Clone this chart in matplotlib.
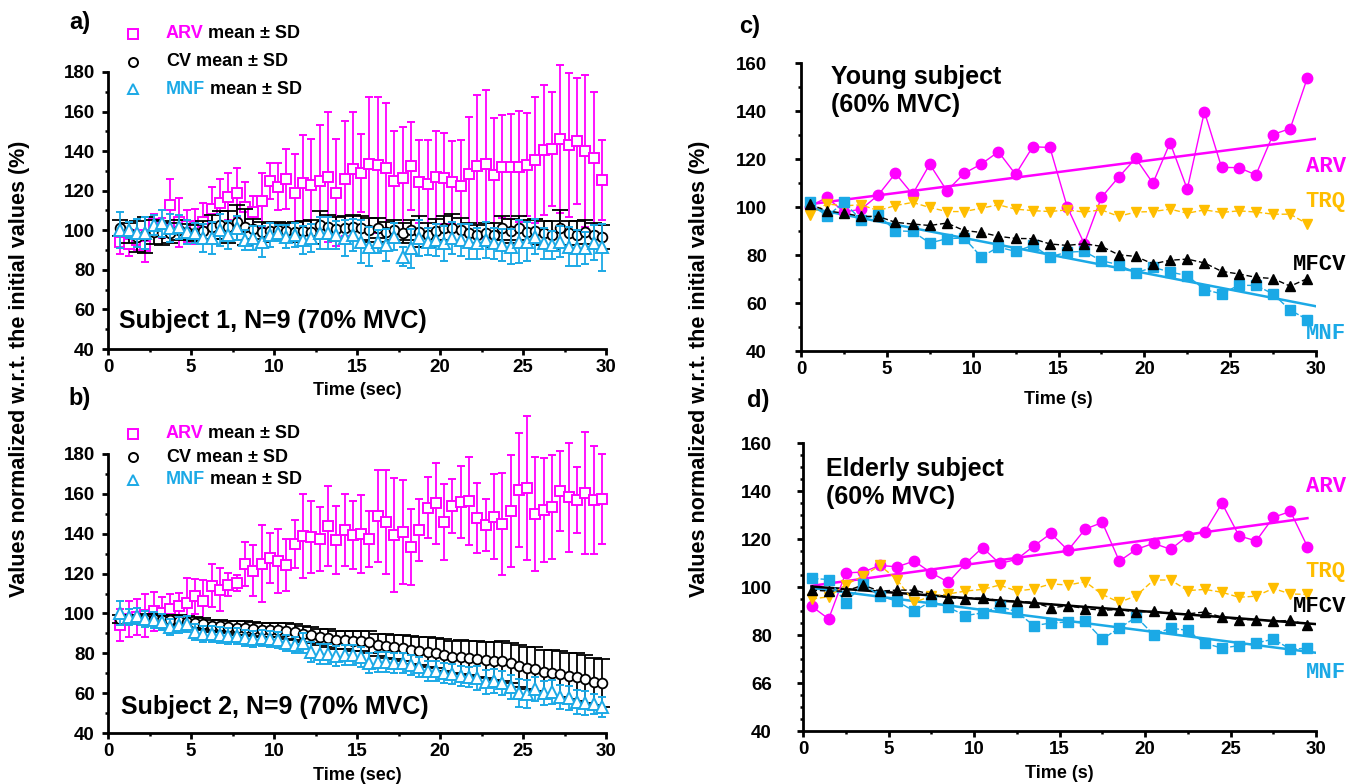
"""
"  plot.py
"  Fatigue plots: normalized ARV / CV / MNF (mean +- SD) for two subjects (a, b)
"  and single-subject ARV / TRQ / MFCV / MNF trends for a young and an elderly subject (c, d)
"""

import matplotlib
matplotlib.use('Agg')
import matplotlib.pyplot as plt
from matplotlib.lines import Line2D
from matplotlib.ticker import MultipleLocator
import numpy as np

plt.rcParams['font.family'] = ['Liberation Sans', 'DejaVu Sans']
plt.rcParams['font.weight'] = 'bold'

MAG = '#FF00FF'
CYA = '#1BA9E6'
ORA = '#FFBE00'
BLK = '#000000'

# ---------------- data, panels a and b (0.5 s epochs) ----------------
t_ab = np.arange(0.75, 30.0, 0.5)

arv_a = [94, 93, 95, 92, 103, 101, 113, 104, 102, 102, 104, 111, 114, 117, 119, 112, 109, 115, 125, 122,
         126, 119, 124, 123, 125, 127, 119, 126, 131, 129, 133.5, 133, 131.5, 125, 126.3, 132.5, 124.6, 123.4,
         126.8, 126.3, 124.3, 122.4, 128.5, 132.5, 133.5, 128, 132.2, 132.2, 132.2, 133.2, 135.5, 140.6,
         141.1, 146, 143.1, 145.1, 140.1, 136.7, 125.4]
arv_a_sd = [6, 6, 5, 8, 5, 5, 13, 12.5, 8, 9, 10, 11, 12, 12, 12.5, 12.6, 8.5, 14, 9, 12, 15, 19.6, 24, 23,
            28, 33, 27, 29, 29, 19.7, 34, 34.5, 33, 25, 26, 22, 21, 22, 23.6, 23, 21, 23, 28.6, 36, 37.4, 29,
            26, 26.6, 28, 26, 32, 32.7, 28.6, 37.5, 36.6, 31.7, 38.4, 33.3, 20.2]
cv_a = [101, 98.5, 96.8, 97.6, 99.3, 98.8, 98.5, 100.2, 99.3, 98.5, 99.8, 101.8, 102.7, 101.8, 104, 101.8,
        100.5, 99.3, 99.8, 100.2, 99.8, 99.3, 99.8, 99.3, 102.7, 101.8, 100.5, 101, 101.8,
        101, 100.2, 101, 99.3, 100.2, 98.5, 100.2, 99.3, 97.6, 99.8, 101, 101, 100.2, 98.5, 97.6, 98.8,
        97.6, 101, 99.8, 101, 99.3, 99.8, 98.5, 97.6, 101, 98.5, 97.6, 99.3, 97.6, 96.5]
cv_a_sd = [4, 5, 8, 9, 6, 6, 5, 5, 4, 4, 5, 6, 7, 8, 9, 9, 5, 5, 4, 4, 4, 5, 5, 6, 7, 6, 6, 6, 6,
           6, 6, 5, 5, 5, 5, 5, 8, 6, 6, 6, 7, 6, 5, 5, 5, 6, 6, 6, 6, 6, 6, 6, 7, 9, 6, 7, 6, 6, 6]
mnf_a = [100.2, 100.2, 98.5, 98.5, 102.7, 103.5, 101, 101.8, 99.3, 98.5, 96, 96, 100.2, 97.6, 101, 95.1, 96,
         94.3, 97.6, 98.5, 96.8, 97.6, 95.1, 96, 98.5, 98.5, 97.6, 96, 97.6,
         94.3, 91.8, 94.3, 92.6, 96.8, 86.7, 90.9, 96, 94.3, 95.1, 93.4, 96, 95.1, 94.3, 93.4, 95.1, 93.4,
         92.6, 91.8, 94.3, 94.3, 96.8, 93.4, 92.6, 94.3, 91.8, 90.9, 90.9, 93.8, 91.4]
mnf_a_sd = [9, 4, 7, 8, 5, 7, 7, 6, 6, 5, 7, 8, 8, 7, 6, 5, 6, 8, 6, 4, 6, 6, 7, 7, 8, 8, 7, 9, 8,
            11, 10, 6, 8, 7, 5, 10, 9, 7, 8, 9, 8, 8, 9, 8, 9, 8, 8, 9, 11, 10, 9, 8, 7, 8, 10, 9, 8, 9, 12]

arv_b = [94, 97, 98, 99, 101, 100, 102, 103.5, 105, 108.5, 106, 114, 112, 114.5, 115.5, 125, 121.5, 125,
         128, 126.5, 124.5, 135, 139, 138.5, 137.5, 144, 137, 142, 139.5,
         139.9, 137.2, 148.9, 145.9, 139.4, 140.9, 133.5, 141.9, 153.1, 155.3, 145.7, 153.9, 155.9, 156.4,
         147.9, 144.2, 148.6, 144.9, 151.4, 161.9, 162.9, 149.9, 151.9, 153.3, 161.4, 158.3, 156.9, 160.4,
         156.9, 157.3]
arv_b_sd = [8, 9, 9, 11, 10, 8, 8, 7, 13, 9, 11, 11, 11, 6, 4, 11, 13, 19.5, 12.5, 16, 13, 12, 21, 18, 16,
            20, 17, 18, 17,
            19.5, 14, 23, 26, 28.7, 26, 19, 15.5, 15.3, 20.3, 19, 13.4, 18, 22.3, 17.4, 13, 21.5, 25.5, 28,
            28.5, 36, 28.5, 26, 26, 20, 27.4, 16.5, 30.7, 27, 22.6]
cv_b = [97.4, 97.1, 97.4, 97.4, 97.1, 96.6, 96.6, 96.3, 95.8, 95.3, 94.6, 93.9, 93.6, 93.2, 92.9, 92.6, 92.2,
        91.9, 91.9, 91.6, 91.1, 90.6, 89.9, 89.1, 88.2, 87.9, 86.9, 86.5, 86.2,
        86, 85.5, 84.2, 83.7, 83.3, 82.5, 81.7, 81.2, 80.8, 80, 79.2, 78.3, 78, 77.5, 77, 76.6, 76.3, 76.3,
        75.3, 73.6, 72.5, 72, 70.8, 70.3, 69.6, 68.6, 68, 67, 65.8, 65]
cv_b_sd = [2, 2, 2, 2.5, 2.5, 2.5, 2.5, 3, 3, 3, 3, 3, 3, 3, 3.5, 3.5, 3.5, 3.5, 3.5, 3.5, 4, 4, 4, 4, 4,
           4.5, 4.5, 4.5, 5, 5, 5.5, 5.5, 6, 6, 6.5, 7, 7, 7.5, 7.5, 8, 8, 8.5, 8.5, 9, 9, 9.5, 10, 10,
           10.5, 10.5, 11, 11, 11.5, 11.5, 11.5, 12, 12, 12, 12]
mnf_b = [100.4, 98.3, 98.6, 97.4, 96.9, 95.8, 93.2, 94.1, 94.6, 90.7, 89.9, 89.6, 89.1, 88.9, 88.6, 87.9,
         87.4, 87.9, 87.4, 86.5, 85.2, 84, 85.2, 80.7, 79.8, 79.5, 78.5, 79, 79.3,
         78.3, 75.3, 75.8, 75.8, 75.3, 75.3, 74.1, 73.3, 71.3, 71.3, 70, 69.5, 68.6, 68.3, 67.5, 65.8, 66.1,
         65.3, 63.2, 60.2, 59.4, 61.9, 59.9, 60.7, 58.2, 57.7, 55.7, 55.2, 54.6, 53.2]
mnf_b_sd = [6, 4, 4, 4, 4, 4, 4, 4, 4, 4, 4, 4, 4, 4, 4, 4, 4, 4, 4, 4, 4, 4, 5, 5, 5, 5, 5, 5, 5,
            5, 5, 5, 5, 5, 5, 5, 5, 5, 5, 5, 5, 5, 5, 6, 6, 6, 6, 6, 7, 7, 6, 6, 6, 6, 6, 6, 6, 5, 5]

# ---------------- data, panels c and d (1 s epochs) ----------------
t_cd = np.arange(0.5, 30.0, 1.0)

arv_c = [100.2, 104, 98, 99, 105, 114, 105.3, 117.8, 106.7, 114, 117.9, 123, 113.6, 125.1, 124.8, 100.2,
         84.7, 104, 112.4, 120.3, 109.9, 126.8, 107.4, 139.7, 116.5, 116.4, 113.4, 130.2, 132.7, 153.9]
trq_c = [96.7, 101.3, 100.5, 100.9, 98.5, 100.6, 101.9, 99.8, 98.1, 98.1, 99.5, 100.9, 99.1, 98.5, 98.1,
         98.8, 97.9, 98.8, 96.1, 97.9, 98.1, 99.1, 97.4, 98.8, 97.7, 98.4, 97.9, 97, 97, 92.9]
mfcv_c = [101.2, 98.4, 97.4, 96.1, 96.1, 93.6, 92.9, 92.3, 93.3, 90.2, 89.4, 87.8, 86.9, 86.8, 84.6, 84,
          84.7, 83.6, 80.1, 79.4, 76.3, 77.8, 78.3, 76.7, 73.2, 72.1, 70.7, 70.2, 67, 70.2]
mnf_c = [101.9, 96.1, 101.9, 94.7, 96.7, 90.1, 89.8, 85, 86.8, 87.1, 79.2, 83.3, 81.5, 84, 79.2, 81.2,
         81.5, 77.6, 76, 72.5, 74.9, 72.9, 71.4, 65.6, 63.8, 67.4, 67.3, 63.8, 57, 53.1]

arv_d = [92, 86.7, 105.9, 106.2, 109, 108.4, 110.8, 105.9, 102, 109.8, 116.4, 109.8, 111.5, 117.1, 122.3,
         115.3, 124.1, 126.9, 110.8, 115.7, 118.2, 115.7, 121.3, 123.1, 134.9, 121.3, 119.2, 129, 131.5, 116.8]
trq_d = [95, 95.9, 101, 104.5, 109, 103.1, 93.6, 96.2, 97.1, 98.3, 99, 100.8, 98.3, 99.2, 101.3, 100.8,
         102.2, 96.9, 93.6, 96.4, 102.9, 102.9, 98.5, 99, 97.8, 95.7, 96.2, 99.4, 97.1, 96.9]
mfcv_d = [98.7, 98.3, 98.3, 100.8, 98.3, 98.7, 98.7, 96.9, 95.5, 95.2, 95.5, 94.3, 94.1, 93.6, 91.3, 92.2,
          91, 90.3, 90.6, 89.5, 89.9, 88.8, 88.8, 89.6, 87.4, 86.4, 86.4, 85.7, 86.1, 84.3]
mnf_d = [103.6, 103.1, 93.4, 101.3, 96.2, 94.1, 89.9, 94.1, 91.5, 88.1, 89.2, 92, 89.6, 83.9, 85, 85.4,
         85.7, 78.3, 82.9, 87.5, 80.1, 82.9, 81.9, 76.6, 74.5, 75.6, 76.6, 78.3, 74.1, 74.5]

d_ticks = [40, 60, 80, 100, 120, 140, 160]
d_ticklabels = ['40', '66', '80', '100', '120', '140', '160']

W, H = 1349, 784
TICK_FS = 13.5


def fx(x):
    return x / W


def fy(y):
    return 1 - y / H


def style_axes(ax, ymin, ymax, yminor, ypad):
    ax.set_xlim(0, 30)
    ax.set_ylim(ymin, ymax)
    for s in ['top', 'right']:
        ax.spines[s].set_visible(False)
    for s in ['left', 'bottom']:
        ax.spines[s].set_linewidth(2)
    ax.xaxis.set_major_locator(MultipleLocator(5))
    ax.xaxis.set_minor_locator(MultipleLocator(2.5))
    ax.yaxis.set_major_locator(MultipleLocator(20))
    ax.yaxis.set_minor_locator(MultipleLocator(yminor))
    ax.tick_params(which='major', direction='out', length=4.5, width=2, labelsize=TICK_FS)
    ax.tick_params(which='minor', direction='out', length=2.5, width=1.8)
    ax.tick_params(axis='x', which='major', pad=3)
    ax.tick_params(axis='y', which='major', pad=ypad)
    for lab in ax.get_xticklabels() + ax.get_yticklabels():
        lab.set_fontweight('bold')


def draw_meanplot(ax, arv, arv_sd, cv, cv_sd, mnf, mnf_sd):
    parts = []
    parts.append(ax.errorbar(t_ab, arv, yerr=arv_sd, fmt='s', ms=7.5, mfc='white', mec=MAG, mew=1.4,
                             ecolor=MAG, elinewidth=1.3, capsize=2.8, capthick=1.3, zorder=2))
    parts.append(ax.errorbar(t_ab, cv, yerr=cv_sd, fmt='o', ms=7, mfc='white', mec=BLK, mew=1.3,
                             ecolor=BLK, elinewidth=1.3, capsize=5.5, capthick=1.3, zorder=3))
    parts.append(ax.errorbar(t_ab, mnf, yerr=mnf_sd, fmt='^', ms=8, mfc='white', mec=CYA, mew=1.4,
                             ecolor=CYA, elinewidth=1.3, capsize=3, capthick=1.3, zorder=4))
    # error bars are allowed to run above the frame, like in the original figure
    for eb in parts:
        for art in eb.get_children():
            art.set_clip_on(False)


def draw_legend(ys):
    renderer = fig.canvas.get_renderer()
    rows = [('s', MAG, 'ARV'), ('o', BLK, 'CV'), ('^', CYA, 'MNF')]
    for (m, c, name), y in zip(rows, ys):
        fig.add_artist(Line2D([fx(133)], [fy(y)], marker=m, ms=6.5, mfc='white', mec=c, mew=1.4,
                              linestyle='none', transform=fig.transFigure))
        t = fig.text(fx(166), fy(y), name, color=c, fontsize=13, fontweight='bold',
                     va='center', ha='left')
        x_end = t.get_window_extent(renderer).x1
        fig.text((x_end + 4.5) / W, fy(y), 'mean ± SD', color=BLK, fontsize=13, fontweight='bold',
                 va='center', ha='left')


def draw_trends(ax, arv, trq, mfcv, mnf, mfcv_fit, arv_end):
    ax.plot(t_cd, arv, '-', color=MAG, lw=1, marker='o', ms=7.5, zorder=3)
    ax.plot(t_cd, trq, '--', color=ORA, lw=1, marker='v', ms=7.5, zorder=4, dashes=(4, 2))
    ax.plot(t_cd, mfcv, '--', color=BLK, lw=1, marker='^', ms=7.5, zorder=5, dashes=(4, 2))
    ax.plot(t_cd, mnf, '--', color=CYA, lw=1, marker='s', ms=6.5, zorder=4, dashes=(5, 1.5))
    xs = np.array([0.5, arv_end])
    ax.plot(xs, np.polyval(np.polyfit(t_cd, arv, 1), xs), color=MAG, lw=1.8, zorder=2)
    xs = np.array([0.5, 30])
    ax.plot(xs, np.polyval(np.polyfit(t_cd, mnf, 1), xs), color=CYA, lw=1.8, zorder=2)
    if mfcv_fit:
        ax.plot(xs, np.polyval(np.polyfit(t_cd, mfcv, 1), xs), color=BLK, lw=1.8, zorder=2)


fig = plt.figure(figsize=(W / 100, H / 100), dpi=100)

# panel a
ax_a = fig.add_axes([fx(108), fy(349), fx(606 - 108), (349 - 72) / H])
draw_meanplot(ax_a, arv_a, arv_a_sd, cv_a, cv_a_sd, mnf_a, mnf_a_sd)
style_axes(ax_a, 40, 180, 10, 5)
ax_a.set_xlabel('Time (sec)', fontsize=13, fontweight='bold', labelpad=4)
ax_a.text(0.65, 54, 'Subject 1, N=9 (70% MVC)', fontsize=18, fontweight='bold', va='center')

# panel b
ax_b = fig.add_axes([fx(108), fy(733), fx(606 - 108), (733 - 454) / H])
draw_meanplot(ax_b, arv_b, arv_b_sd, cv_b, cv_b_sd, mnf_b, mnf_b_sd)
style_axes(ax_b, 40, 180, 10, 5)
ax_b.set_xlabel('Time (sec)', fontsize=13, fontweight='bold', labelpad=5)
ax_b.text(0.8, 53, 'Subject 2, N=9 (70% MVC)', fontsize=18, fontweight='bold', va='center')

# panel c
ax_c = fig.add_axes([fx(801), fy(351), fx(1316 - 801), (351 - 63) / H])
draw_trends(ax_c, arv_c, trq_c, mfcv_c, mnf_c, False, 30)
style_axes(ax_c, 40, 160, 10, 20)
ax_c.set_xlabel('Time (s)', fontsize=13, fontweight='bold', labelpad=9)
ax_c.text(1.75, 159, 'Young subject\n(60% MVC)', fontsize=18, fontweight='bold', va='top',
          linespacing=1.2)

# panel d
ax_d = fig.add_axes([fx(803), fy(731), fx(1316 - 803), (731 - 443) / H])
draw_trends(ax_d, arv_d, trq_d, mfcv_d, mnf_d, True, 29.5)
style_axes(ax_d, 40, 160, 5, 18)
ax_d.set_yticks(d_ticks)
ax_d.set_yticklabels(d_ticklabels, fontweight='bold', fontsize=TICK_FS)
ax_d.set_xlabel('Time (s)', fontsize=13, fontweight='bold', labelpad=5)
ax_d.text(1.35, 154, 'Elderly subject\n(60% MVC)', fontsize=18, fontweight='bold', va='top',
          linespacing=1.2)

# legends of a and b
draw_legend([34, 62, 89])
draw_legend([434, 457, 480])

# right-hand curve labels
mono = ['Liberation Mono', 'DejaVu Sans Mono']
for (y, txt, c) in [(167, 'ARV', MAG), (201, 'TRQ', ORA), (264, 'MFCV', BLK), (334, 'MNF', CYA),
                    (487, 'ARV', MAG), (572, 'TRQ', ORA), (606, 'MFCV', BLK), (673, 'MNF', CYA)]:
    fig.text(fx(1346), fy(y), txt, color=c, family=mono, fontsize=16, fontweight='bold',
             ha='right', va='center')

# panel letters
for (x, y, txt) in [(80, 22, 'a)'), (80, 398, 'b)'), (750, 27, 'c)'), (758, 400, 'd)')]:
    fig.text(fx(x), fy(y), txt, fontsize=17, fontweight='bold', ha='center', va='center')

# shared y labels
ylab = 'Values normalized w.r.t. the initial values (%)'
fig.text(fx(20), fy(369), ylab, rotation=90, fontsize=15.5, fontweight='bold', ha='center', va='center')
fig.text(fx(699), fy(369), ylab, rotation=90, fontsize=15.5, fontweight='bold', ha='center', va='center')

fig.savefig('out.png', dpi=100)
